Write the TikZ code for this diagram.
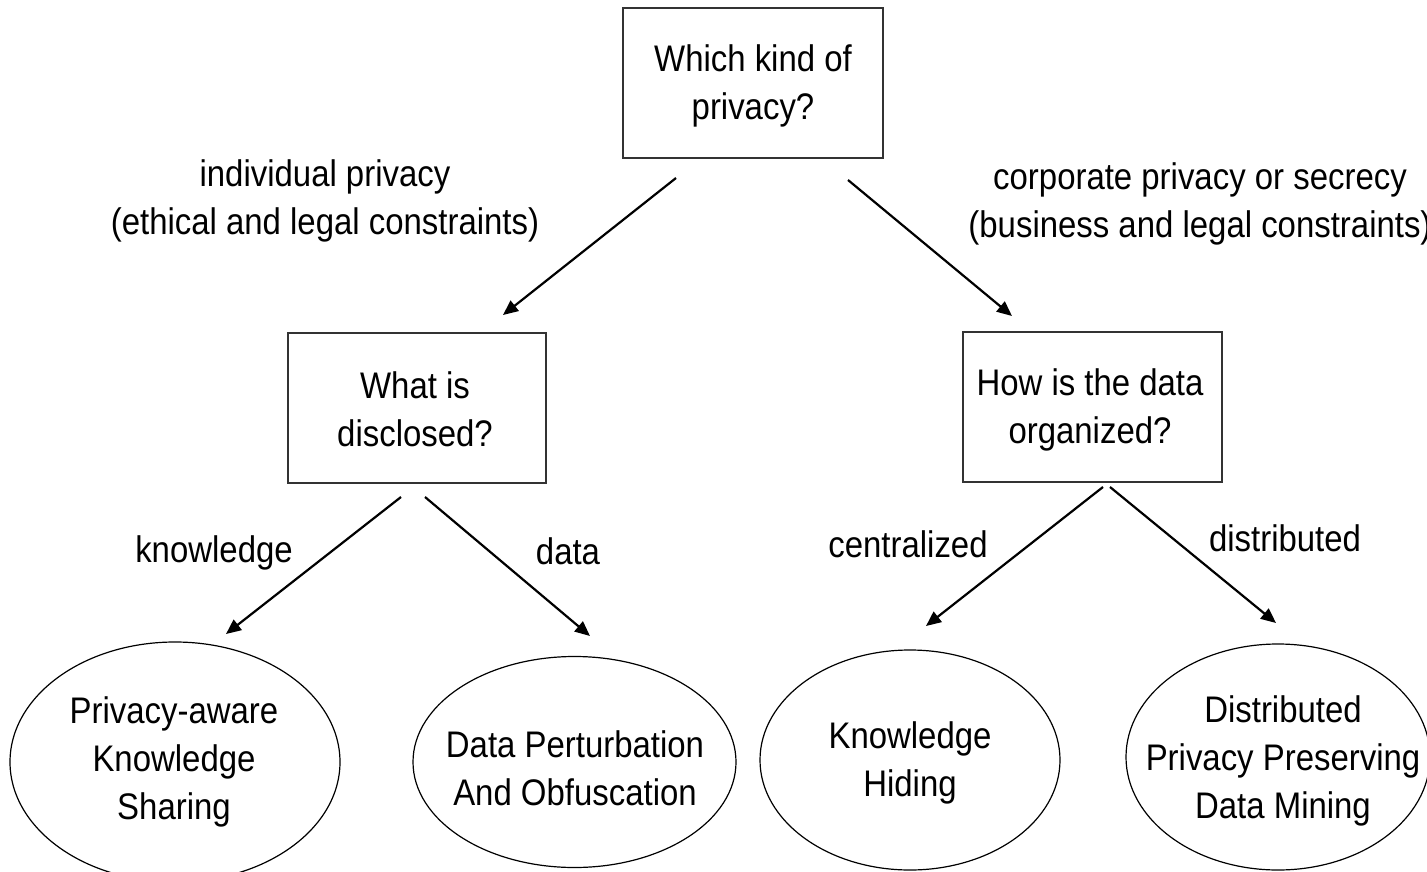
\documentclass[tikz,border=0pt]{standalone}
\usepackage{fontspec}
\setmainfont[FakeStretch=0.89]{Liberation Sans}
\usetikzlibrary{shapes.geometric,arrows.meta}
\begin{document}
\begin{tikzpicture}[x=1pt,y=-1pt,
  txt/.style={font=\fontsize{37}{48}\selectfont, align=center, inner sep=0pt},
  qbox/.style={draw=black!80, line width=1.6pt, inner sep=0pt},
  oval/.style={draw=black, line width=1.2pt, ellipse, inner sep=0pt},
  conn/.style={line width=2.2pt, -{Triangle[length=15pt,width=13pt]}}]
\useasboundingbox (0,0) rectangle (1427,872);
% boxes
\node[qbox, minimum width=260pt, minimum height=150pt] (top) at (753,83) {};
\node[txt] (toptxt) at (753,86) {Which kind of\\ privacy?};
\node[qbox, minimum width=258pt, minimum height=150pt] (left) at (417,408) {};
\node[txt] (lefttxt) at (415,409) {What is\\ disclosed?};
\node[qbox, minimum width=259pt, minimum height=150pt] (right) at (1092.5,407) {};
\node[txt] (righttxt) at (1090,410) {How is the data\\ organized?};
% ellipses
\node[oval, minimum width=330pt, minimum height=240pt] (e1) at (175,762) {};
\node[txt] (e1t) at (174,762) {Privacy-aware\\ Knowledge\\ Sharing};
\node[oval, minimum width=323pt, minimum height=211pt] (e2) at (574.5,762) {};
\node[txt] (e2t) at (575,768) {Data Perturbation\\ And Obfuscation};
\node[oval, minimum width=300pt, minimum height=220pt] (e3) at (910,760) {};
\node[txt] (e3t) at (910,763) {Knowledge\\ Hiding};
\node[oval, minimum width=304pt, minimum height=226pt] (e4) at (1278,757) {};
\node[txt] (e4t) at (1283,761) {Distributed\\ Privacy Preserving\\ Data Mining};
% edge labels
\node[txt] (l1) at (325,201) {individual privacy\\ (ethical and legal constraints)};
\node[txt] (l2) at (1200,204) {corporate privacy or secrecy\\ (business and legal constraints)};
\node[txt] (l3) at (214,553) {knowledge};
\node[txt] (l4) at (568,551) {data};
\node[txt] (l5) at (908,544) {centralized};
\node[txt] (l6) at (1285,538) {distributed};
% connector end points
\coordinate (a1s) at (676,178); \coordinate (a1e) at (503,315);
\coordinate (a2s) at (848,180); \coordinate (a2e) at (1012,316);
\coordinate (a3s) at (401,497); \coordinate (a3e) at (226,634);
\coordinate (a4s) at (425,497); \coordinate (a4e) at (590,636);
\coordinate (a5s) at (1103,487); \coordinate (a5e) at (926,626);
\coordinate (a6s) at (1110,487); \coordinate (a6e) at (1276,623);
\draw[conn] (a1s) -- (a1e);
\draw[conn] (a2s) -- (a2e);
\draw[conn] (a3s) -- (a3e);
\draw[conn] (a4s) -- (a4e);
\draw[conn] (a5s) -- (a5e);
\draw[conn] (a6s) -- (a6e);
\end{tikzpicture}
\end{document}
